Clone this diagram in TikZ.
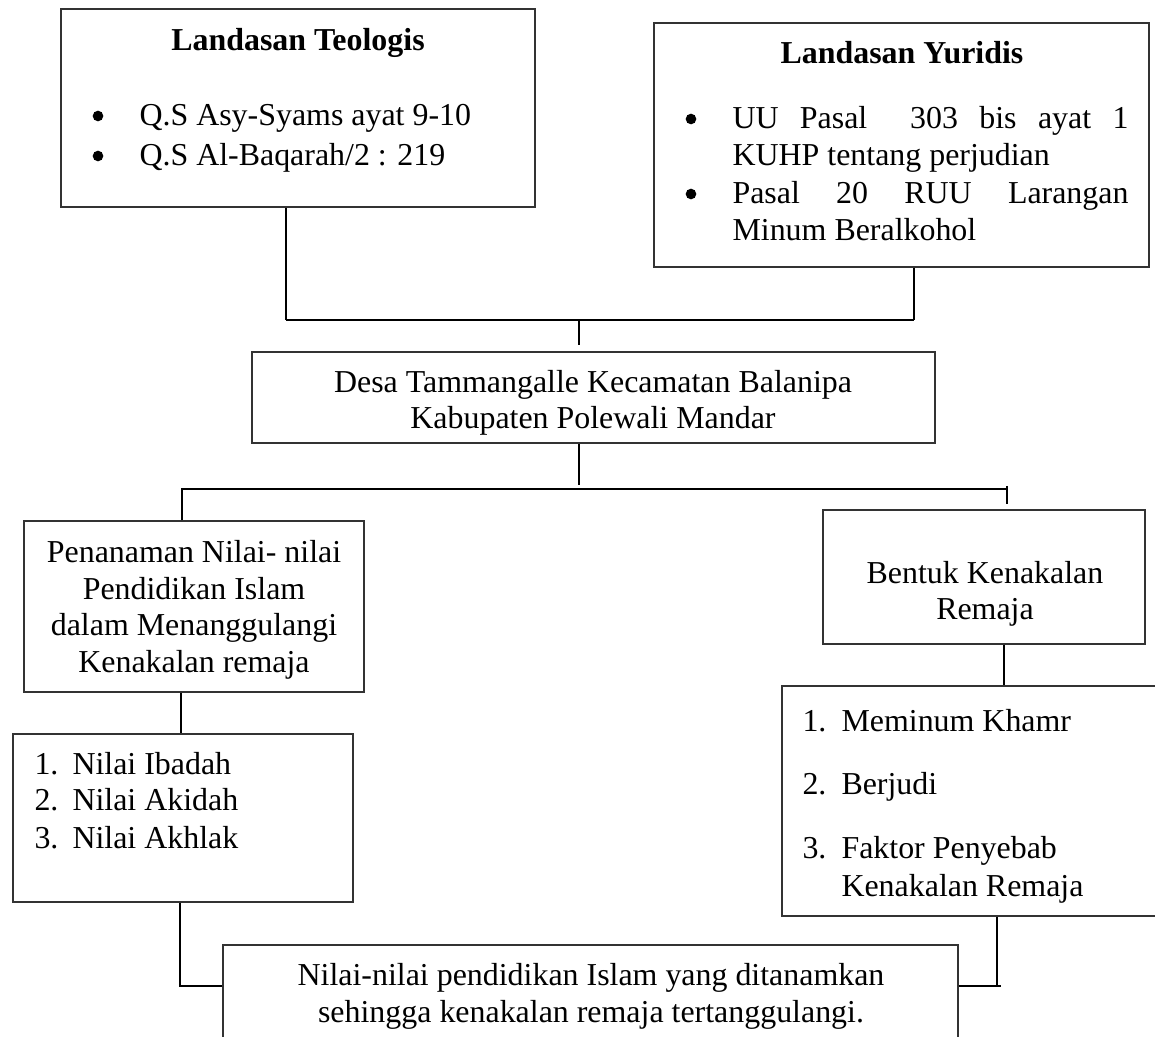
\documentclass[tikz,border=0pt]{standalone}
\usepackage{fontspec}
\setmainfont{Liberation Serif}
\usetikzlibrary{fit}
\tikzset{
  box/.style={draw=black!80, line width=0.45pt, inner sep=0pt},
  txt/.style={inner sep=0pt, yshift=-1.5pt, font=\fontsize{12}{14}\selectfont},
  bold/.style={txt, font=\fontsize{12}{14}\selectfont\bfseries},
  dot/.style={circle, fill, inner sep=0pt, minimum size=4pt},
  link/.style={line width=0.45pt},
  bar/.style={line width=0.75pt}
}

\begin{document}
\begin{tikzpicture}[x=0.376pt, y=-0.376pt]
      \useasboundingbox (0,0) rectangle (1155,1037);
      \clip (0,0) rectangle (1155,1037);

      \node[box, fit={(61,9) (535,207)}] (teo) {};
      \node[bold, anchor=mid] (teo-t) at (298,40) {Landasan Teologis};
      \node[dot] (teo-b1) at (98,116) {};
      \node[txt, anchor=mid west] (teo-1) at (139,115) {Q.S Asy-Syams ayat 9-10};
      \node[dot] (teo-b2) at (98,156) {};
      \node[txt, anchor=mid west] (teo-2) at (139,155) {Q.S Al-Baqarah/2 : 219};

      \node[box, fit={(654,23) (1149,267)}] (yur) {};
      \node[bold, anchor=mid] (yur-t) at (902,53) {Landasan Yuridis};
      \node[dot] (yur-b1) at (691,119) {};
      \node[txt, anchor=mid west] (yur-1) at (732,118) {\makebox[148.9pt][s]{UU Pasal\ \ 303 bis ayat 1}};
      \node[txt, anchor=mid west] (yur-1b) at (732,155) {KUHP tentang perjudian};
      \node[dot] (yur-b2) at (691,194) {};
      \node[txt, anchor=mid west] (yur-2) at (732,193) {\makebox[148.9pt][s]{Pasal 20 RUU Larangan}};
      \node[txt, anchor=mid west] (yur-2b) at (732,230) {Minum Beralkohol};

      \node[box, fit={(252,352) (935,443)}] (desa) {};
      \node[txt, anchor=mid] (desa-1) at (593,382) {Desa Tammangalle Kecamatan Balanipa};
      \node[txt, anchor=mid] (desa-2) at (593,418) {Kabupaten Polewali Mandar};

      \node[box, fit={(24,521) (364,692)}] (tanam) {};
      \node[txt, anchor=mid] (tanam-1) at (194,552) {Penanaman Nilai- nilai};
      \node[txt, anchor=mid] (tanam-2) at (194,589) {Pendidikan Islam};
      \node[txt, anchor=mid] (tanam-3) at (194,625) {dalam Menanggulangi};
      \node[txt, anchor=mid] (tanam-4) at (194,662) {Kenakalan remaja};

      \node[box, fit={(13,734) (353,902)}] (nilai) {};
      \node[txt, anchor=mid west] (nilai-n1) at (34,764) {1.};
      \node[txt, anchor=mid west] (nilai-1) at (72,764) {Nilai Ibadah};
      \node[txt, anchor=mid west] (nilai-n2) at (34,800) {2.};
      \node[txt, anchor=mid west] (nilai-2) at (72,800) {Nilai Akidah};
      \node[txt, anchor=mid west] (nilai-n3) at (34,838) {3.};
      \node[txt, anchor=mid west] (nilai-3) at (72,838) {Nilai Akhlak};

      \node[box, fit={(823,510) (1145,644)}] (bentuk) {};
      \node[txt, anchor=mid] (bentuk-1) at (985,573) {Bentuk Kenakalan};
      \node[txt, anchor=mid] (bentuk-2) at (985,609) {Remaja};

      \node[box, fit={(782,686) (1170,916)}] (jenis) {};
      \node[txt, anchor=mid west] (jenis-n1) at (802,721) {1.};
      \node[txt, anchor=mid west] (jenis-1) at (841,721) {Meminum Khamr};
      \node[txt, anchor=mid west] (jenis-n2) at (802,784) {2.};
      \node[txt, anchor=mid west] (jenis-2) at (841,784) {Berjudi};
      \node[txt, anchor=mid west] (jenis-n3) at (802,848) {3.};
      \node[txt, anchor=mid west] (jenis-3) at (841,848) {Faktor Penyebab};
      \node[txt, anchor=mid west] (jenis-3b) at (841,886) {Kenakalan Remaja};

      \node[box, fit={(223,945) (958,1080)}] (hasil) {};
      \node[txt, anchor=mid] (hasil-1) at (591,975) {Nilai-nilai pendidikan Islam yang ditanamkan};
      \node[txt, anchor=mid] (hasil-2) at (591,1012) {sehingga kenakalan remaja tertanggulangi.};

      \coordinate (ja) at (286,320);
      \coordinate (jb) at (914,320);
      \coordinate (jc) at (579,320);
      \coordinate (jd) at (579,489);
      \coordinate (je) at (182,489);
      \coordinate (jf) at (1007,489);
      \coordinate (jg) at (1007,504);
      \coordinate (lb) at (181,710);
      \coordinate (rb) at (1004,665);
      \coordinate (jl) at (180,986);
      \coordinate (jr) at (997,986);

      \draw[link] (teo.south -| ja) -- (ja);
      \draw[link] (yur.south -| jb) -- (jb);
      \draw[bar] (ja) -- (jb);
      \draw[link, shorten >=2.3pt] (jc) -- (desa.north -| jc);
      \draw[link, shorten >=1.5pt] (desa.south -| jd) -- (jd);
      \draw[link] (tanam.north -| je) -- (je) -- (jf);
      \draw[link] ([yshift=1.2pt]jf) -- (jg);
      \draw[link] (tanam.south -| lb) -- (nilai.north -| lb);
      \draw[link] (bentuk.south -| rb) -- (jenis.north -| rb);
      \draw[bar] (nilai.south -| jl) -- (jl) -- (hasil.west |- jl);
      \draw[link] (jenis.south -| jr) -- (jr);
      \draw[bar] (hasil.east |- jr) -- ([xshift=1.5pt]jr);
\end{tikzpicture}
\end{document}
